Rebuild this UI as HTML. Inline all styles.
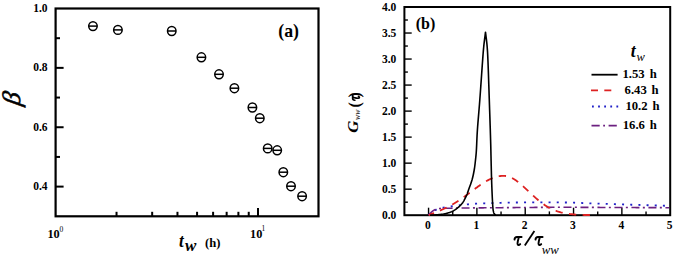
<!DOCTYPE html>
<html><head><meta charset="utf-8"><style>
html,body{margin:0;padding:0;background:#fff;}
svg{display:block;}
</style></head><body>
<svg width="675" height="258" viewBox="0 0 675 258">
<rect width="675" height="258" fill="#fff"/>
<rect x="55.6" y="8.5" width="262.90" height="207.80" fill="none" stroke="#000" stroke-width="2.2"/>
<line x1="55.6" y1="38.19" x2="60.0" y2="38.19" stroke="#000" stroke-width="2"/>
<line x1="55.6" y1="67.87" x2="63.6" y2="67.87" stroke="#000" stroke-width="2"/>
<line x1="55.6" y1="97.56" x2="60.0" y2="97.56" stroke="#000" stroke-width="2"/>
<line x1="55.6" y1="127.24" x2="63.6" y2="127.24" stroke="#000" stroke-width="2"/>
<line x1="55.6" y1="156.93" x2="60.0" y2="156.93" stroke="#000" stroke-width="2"/>
<line x1="55.6" y1="186.61" x2="63.6" y2="186.61" stroke="#000" stroke-width="2"/>
<line x1="116.53" y1="216.3" x2="116.53" y2="211.8" stroke="#000" stroke-width="2"/>
<line x1="152.17" y1="216.3" x2="152.17" y2="211.8" stroke="#000" stroke-width="2"/>
<line x1="177.46" y1="216.3" x2="177.46" y2="211.8" stroke="#000" stroke-width="2"/>
<line x1="197.07" y1="216.3" x2="197.07" y2="211.8" stroke="#000" stroke-width="2"/>
<line x1="213.10" y1="216.3" x2="213.10" y2="211.8" stroke="#000" stroke-width="2"/>
<line x1="226.65" y1="216.3" x2="226.65" y2="211.8" stroke="#000" stroke-width="2"/>
<line x1="238.39" y1="216.3" x2="238.39" y2="211.8" stroke="#000" stroke-width="2"/>
<line x1="248.74" y1="216.3" x2="248.74" y2="211.8" stroke="#000" stroke-width="2"/>
<line x1="258.00" y1="216.3" x2="258.00" y2="208.0" stroke="#000" stroke-width="2"/>
<ellipse cx="92.95" cy="26.1" rx="4.25" ry="4.45" fill="none" stroke="#000" stroke-width="1.5"/>
<line x1="88.70" y1="26.1" x2="97.20" y2="26.1" stroke="#000" stroke-width="1.5"/>
<ellipse cx="117.9" cy="29.9" rx="4.25" ry="4.45" fill="none" stroke="#000" stroke-width="1.5"/>
<line x1="113.65" y1="29.9" x2="122.15" y2="29.9" stroke="#000" stroke-width="1.5"/>
<ellipse cx="171.75" cy="31.0" rx="4.25" ry="4.45" fill="none" stroke="#000" stroke-width="1.5"/>
<line x1="167.50" y1="31.0" x2="176.00" y2="31.0" stroke="#000" stroke-width="1.5"/>
<ellipse cx="201.4" cy="57.3" rx="4.25" ry="4.45" fill="none" stroke="#000" stroke-width="1.5"/>
<line x1="197.15" y1="57.3" x2="205.65" y2="57.3" stroke="#000" stroke-width="1.5"/>
<ellipse cx="219" cy="74.3" rx="4.25" ry="4.45" fill="none" stroke="#000" stroke-width="1.5"/>
<line x1="214.75" y1="74.3" x2="223.25" y2="74.3" stroke="#000" stroke-width="1.5"/>
<ellipse cx="234.4" cy="88.2" rx="4.25" ry="4.45" fill="none" stroke="#000" stroke-width="1.5"/>
<line x1="230.15" y1="88.2" x2="238.65" y2="88.2" stroke="#000" stroke-width="1.5"/>
<ellipse cx="252.4" cy="107.5" rx="4.25" ry="4.45" fill="none" stroke="#000" stroke-width="1.5"/>
<line x1="248.15" y1="107.5" x2="256.65" y2="107.5" stroke="#000" stroke-width="1.5"/>
<ellipse cx="259.8" cy="118.2" rx="4.25" ry="4.45" fill="none" stroke="#000" stroke-width="1.5"/>
<line x1="255.55" y1="118.2" x2="264.05" y2="118.2" stroke="#000" stroke-width="1.5"/>
<ellipse cx="267.7" cy="148.4" rx="4.25" ry="4.45" fill="none" stroke="#000" stroke-width="1.5"/>
<line x1="263.45" y1="148.4" x2="271.95" y2="148.4" stroke="#000" stroke-width="1.5"/>
<ellipse cx="277.2" cy="150.3" rx="4.25" ry="4.45" fill="none" stroke="#000" stroke-width="1.5"/>
<line x1="272.95" y1="150.3" x2="281.45" y2="150.3" stroke="#000" stroke-width="1.5"/>
<ellipse cx="283.3" cy="172.2" rx="4.25" ry="4.45" fill="none" stroke="#000" stroke-width="1.5"/>
<line x1="279.05" y1="172.2" x2="287.55" y2="172.2" stroke="#000" stroke-width="1.5"/>
<ellipse cx="291" cy="186.2" rx="4.25" ry="4.45" fill="none" stroke="#000" stroke-width="1.5"/>
<line x1="286.75" y1="186.2" x2="295.25" y2="186.2" stroke="#000" stroke-width="1.5"/>
<ellipse cx="302.1" cy="196.2" rx="4.25" ry="4.45" fill="none" stroke="#000" stroke-width="1.5"/>
<line x1="297.85" y1="196.2" x2="306.35" y2="196.2" stroke="#000" stroke-width="1.5"/>
<text x="47.5" y="11.90" text-anchor="end" font-family="Liberation Serif" font-weight="bold" font-size="11.5">1.0</text>
<text x="47.5" y="71.27" text-anchor="end" font-family="Liberation Serif" font-weight="bold" font-size="11.5">0.8</text>
<text x="47.5" y="130.64" text-anchor="end" font-family="Liberation Serif" font-weight="bold" font-size="11.5">0.6</text>
<text x="47.5" y="190.01" text-anchor="end" font-family="Liberation Serif" font-weight="bold" font-size="11.5">0.4</text>
<text x="47.4" y="237.9" font-family="Liberation Serif" font-weight="bold" font-size="12.3">10</text><text x="59.6" y="231.6" font-family="Liberation Serif" font-size="7.5">0</text>
<text x="250.0" y="237.9" font-family="Liberation Serif" font-weight="bold" font-size="12.3">10</text><text x="261.6" y="231.2" font-family="Liberation Serif" font-size="7.5">1</text>
<text x="278.3" y="36.6" font-family="Liberation Serif" font-weight="bold" font-size="17.8">(a)</text>
<text transform="translate(20.2,106.2) rotate(-90) skewX(-10) scale(1.1,1.07)" font-family="Liberation Serif" font-style="italic" font-size="23.5" stroke="#000" stroke-width="0.55">&#946;</text>
<text transform="translate(178.9,246.5) scale(0.9,1)" font-family="Liberation Serif" font-weight="bold" font-style="italic" font-size="18.8">t</text>
<text x="185.1" y="250.9" font-family="Liberation Serif" font-weight="bold" font-style="italic" font-size="17">w</text>
<text x="205.1" y="247.2" font-family="Liberation Serif" font-weight="bold" font-size="12.6">(h)</text>
<rect x="404.4" y="7.0" width="265.80" height="208.20" fill="none" stroke="#000" stroke-width="2"/>
<line x1="404.4" y1="202.19" x2="407.9" y2="202.19" stroke="#000" stroke-width="1.4"/>
<line x1="404.4" y1="189.17" x2="411.7" y2="189.17" stroke="#000" stroke-width="1.4"/>
<line x1="404.4" y1="176.16" x2="407.9" y2="176.16" stroke="#000" stroke-width="1.4"/>
<line x1="404.4" y1="163.15" x2="411.7" y2="163.15" stroke="#000" stroke-width="1.4"/>
<line x1="404.4" y1="150.14" x2="407.9" y2="150.14" stroke="#000" stroke-width="1.4"/>
<line x1="404.4" y1="137.12" x2="411.7" y2="137.12" stroke="#000" stroke-width="1.4"/>
<line x1="404.4" y1="124.11" x2="407.9" y2="124.11" stroke="#000" stroke-width="1.4"/>
<line x1="404.4" y1="111.10" x2="411.7" y2="111.10" stroke="#000" stroke-width="1.4"/>
<line x1="404.4" y1="98.09" x2="407.9" y2="98.09" stroke="#000" stroke-width="1.4"/>
<line x1="404.4" y1="85.07" x2="411.7" y2="85.07" stroke="#000" stroke-width="1.4"/>
<line x1="404.4" y1="72.06" x2="407.9" y2="72.06" stroke="#000" stroke-width="1.4"/>
<line x1="404.4" y1="59.05" x2="411.7" y2="59.05" stroke="#000" stroke-width="1.4"/>
<line x1="404.4" y1="46.04" x2="407.9" y2="46.04" stroke="#000" stroke-width="1.4"/>
<line x1="404.4" y1="33.03" x2="411.7" y2="33.03" stroke="#000" stroke-width="1.4"/>
<line x1="404.4" y1="20.01" x2="407.9" y2="20.01" stroke="#000" stroke-width="1.4"/>
<line x1="428.56" y1="215.2" x2="428.56" y2="207.7" stroke="#000" stroke-width="1.4"/>
<line x1="452.73" y1="215.2" x2="452.73" y2="211.39999999999998" stroke="#000" stroke-width="1.4"/>
<line x1="476.89" y1="215.2" x2="476.89" y2="207.7" stroke="#000" stroke-width="1.4"/>
<line x1="501.05" y1="215.2" x2="501.05" y2="211.39999999999998" stroke="#000" stroke-width="1.4"/>
<line x1="525.22" y1="215.2" x2="525.22" y2="207.7" stroke="#000" stroke-width="1.4"/>
<line x1="549.38" y1="215.2" x2="549.38" y2="211.39999999999998" stroke="#000" stroke-width="1.4"/>
<line x1="573.55" y1="215.2" x2="573.55" y2="207.7" stroke="#000" stroke-width="1.4"/>
<line x1="597.71" y1="215.2" x2="597.71" y2="211.39999999999998" stroke="#000" stroke-width="1.4"/>
<line x1="621.87" y1="215.2" x2="621.87" y2="207.7" stroke="#000" stroke-width="1.4"/>
<line x1="646.04" y1="215.2" x2="646.04" y2="211.39999999999998" stroke="#000" stroke-width="1.4"/>
<text x="396.3" y="218.80" text-anchor="end" font-family="Liberation Serif" font-weight="bold" font-size="11.5">0.0</text>
<text x="396.3" y="192.77" text-anchor="end" font-family="Liberation Serif" font-weight="bold" font-size="11.5">0.5</text>
<text x="396.3" y="166.75" text-anchor="end" font-family="Liberation Serif" font-weight="bold" font-size="11.5">1.0</text>
<text x="396.3" y="140.72" text-anchor="end" font-family="Liberation Serif" font-weight="bold" font-size="11.5">1.5</text>
<text x="396.3" y="114.70" text-anchor="end" font-family="Liberation Serif" font-weight="bold" font-size="11.5">2.0</text>
<text x="396.3" y="88.67" text-anchor="end" font-family="Liberation Serif" font-weight="bold" font-size="11.5">2.5</text>
<text x="396.3" y="62.65" text-anchor="end" font-family="Liberation Serif" font-weight="bold" font-size="11.5">3.0</text>
<text x="396.3" y="36.63" text-anchor="end" font-family="Liberation Serif" font-weight="bold" font-size="11.5">3.5</text>
<text x="396.3" y="10.60" text-anchor="end" font-family="Liberation Serif" font-weight="bold" font-size="11.5">4.0</text>
<text x="427.96" y="229.3" text-anchor="middle" font-family="Liberation Serif" font-weight="bold" font-size="11.5">0</text>
<text x="476.29" y="229.3" text-anchor="middle" font-family="Liberation Serif" font-weight="bold" font-size="11.5">1</text>
<text x="524.62" y="229.3" text-anchor="middle" font-family="Liberation Serif" font-weight="bold" font-size="11.5">2</text>
<text x="572.95" y="229.3" text-anchor="middle" font-family="Liberation Serif" font-weight="bold" font-size="11.5">3</text>
<text x="621.27" y="229.3" text-anchor="middle" font-family="Liberation Serif" font-weight="bold" font-size="11.5">4</text>
<text x="669.60" y="229.3" text-anchor="middle" font-family="Liberation Serif" font-weight="bold" font-size="11.5">5</text>
<text x="415.7" y="28.8" font-family="Liberation Serif" font-weight="bold" font-size="16">(b)</text>
<path d="M428.50,215.20 L428.62,215.08 L428.73,214.95 L428.85,214.82 L428.96,214.69 L429.08,214.56 L429.19,214.43 L429.31,214.29 L429.42,214.16 L429.53,214.03 L429.65,213.89 L429.76,213.76 L429.88,213.62 L429.99,213.49 L430.10,213.36 L430.22,213.22 L430.33,213.09 L430.45,212.96 L430.56,212.84 L430.68,212.71 L430.80,212.59 L430.91,212.46 L431.03,212.34 L431.15,212.23 L431.27,212.11 L431.39,212.00 L431.51,211.89 L431.63,211.79 L431.75,211.69 L431.88,211.59 L432.00,211.50 L432.13,211.41 L432.25,211.33 L432.38,211.25 L432.51,211.17 L432.64,211.10 L432.77,211.03 L432.90,210.96 L433.03,210.89 L433.16,210.83 L433.30,210.77 L433.43,210.71 L433.56,210.66 L433.70,210.60 L433.83,210.55 L433.97,210.50 L434.10,210.45 L434.24,210.40 L434.38,210.36 L434.51,210.31 L434.65,210.26 L434.78,210.22 L434.92,210.17 L435.06,210.13 L435.19,210.08 L435.33,210.04 L435.46,209.99 L435.60,209.94 L435.73,209.90 L435.87,209.85 L436.00,209.80 L436.13,209.75 L436.26,209.70 L436.39,209.65 L436.52,209.61 L436.64,209.56 L436.77,209.52 L436.89,209.47 L437.01,209.43 L437.14,209.39 L437.26,209.34 L437.38,209.30 L437.50,209.26 L437.63,209.22 L437.75,209.18 L437.88,209.14 L438.00,209.10 L438.13,209.06 L438.26,209.02 L438.39,208.97 L438.52,208.93 L438.65,208.89 L438.79,208.85 L438.93,208.81 L439.07,208.77 L439.22,208.72 L439.37,208.68 L439.52,208.64 L439.68,208.59 L439.84,208.55 L440.00,208.50 L440.17,208.45 L440.34,208.40 L440.52,208.35 L440.70,208.30 L440.88,208.25 L441.07,208.20 L441.26,208.15 L441.46,208.10 L441.65,208.04 L441.85,207.99 L442.05,207.93 L442.26,207.88 L442.46,207.83 L442.67,207.77 L442.88,207.72 L443.08,207.67 L443.29,207.61 L443.50,207.56 L443.71,207.51 L443.93,207.46 L444.14,207.40 L444.35,207.36 L444.56,207.31 L444.77,207.26 L444.98,207.21 L445.18,207.17 L445.39,207.12 L445.60,207.08 L445.80,207.04 L446.00,207.00 L446.20,206.96 L446.40,206.93 L446.59,206.89 L446.78,206.86 L446.98,206.83 L447.17,206.80 L447.36,206.77 L447.55,206.74 L447.74,206.71 L447.93,206.69 L448.11,206.66 L448.30,206.64 L448.49,206.62 L448.68,206.59 L448.88,206.57 L449.07,206.55 L449.26,206.52 L449.46,206.50 L449.65,206.48 L449.85,206.46 L450.05,206.43 L450.26,206.41 L450.46,206.39 L450.67,206.36 L450.88,206.34 L451.10,206.31 L451.32,206.28 L451.54,206.26 L451.77,206.23 L452.00,206.20 L452.24,206.17 L452.48,206.14 L452.72,206.11 L452.97,206.08 L453.22,206.04 L453.47,206.01 L453.73,205.98 L453.99,205.95 L454.25,205.91 L454.52,205.88 L454.79,205.84 L455.06,205.81 L455.33,205.78 L455.60,205.74 L455.88,205.71 L456.15,205.67 L456.43,205.64 L456.70,205.60 L456.98,205.57 L457.26,205.53 L457.54,205.50 L457.81,205.46 L458.09,205.43 L458.37,205.40 L458.64,205.36 L458.92,205.33 L459.19,205.30 L459.46,205.26 L459.73,205.23 L460.00,205.20 L460.27,205.17 L460.53,205.14 L460.80,205.10 L461.07,205.07 L461.33,205.04 L461.60,205.01 L461.87,204.98 L462.13,204.95 L462.40,204.91 L462.67,204.88 L462.93,204.85 L463.20,204.82 L463.47,204.79 L463.73,204.76 L464.00,204.72 L464.27,204.69 L464.53,204.66 L464.80,204.63 L465.07,204.60 L465.33,204.57 L465.60,204.54 L465.87,204.52 L466.13,204.49 L466.40,204.46 L466.67,204.43 L466.93,204.40 L467.20,204.38 L467.47,204.35 L467.73,204.33 L468.00,204.30 L468.26,204.28 L468.52,204.25 L468.77,204.23 L469.02,204.20 L469.26,204.18 L469.50,204.16 L469.74,204.14 L469.98,204.12 L470.21,204.10 L470.44,204.08 L470.68,204.06 L470.91,204.04 L471.15,204.02 L471.38,204.00 L471.62,203.98 L471.87,203.96 L472.12,203.94 L472.37,203.93 L472.63,203.91 L472.89,203.89 L473.16,203.87 L473.44,203.85 L473.72,203.83 L474.02,203.82 L474.32,203.80 L474.63,203.78 L474.96,203.76 L475.29,203.74 L475.64,203.72 L476.00,203.70 L476.37,203.68 L476.75,203.66 L477.13,203.64 L477.52,203.62 L477.92,203.60 L478.32,203.58 L478.73,203.56 L479.15,203.54 L479.57,203.52 L480.00,203.50 L480.44,203.48 L480.88,203.46 L481.33,203.43 L481.79,203.41 L482.25,203.39 L482.72,203.37 L483.20,203.35 L483.68,203.33 L484.17,203.31 L484.67,203.29 L485.17,203.27 L485.68,203.25 L486.20,203.23 L486.72,203.21 L487.25,203.19 L487.79,203.17 L488.33,203.16 L488.88,203.14 L489.44,203.12 L490.00,203.10 L490.57,203.08 L491.14,203.06 L491.71,203.05 L492.29,203.03 L492.87,203.01 L493.46,202.99 L494.05,202.97 L494.64,202.95 L495.24,202.94 L495.85,202.92 L496.47,202.90 L497.09,202.88 L497.72,202.87 L498.35,202.85 L499.00,202.83 L499.65,202.81 L500.32,202.80 L500.99,202.78 L501.68,202.76 L502.37,202.75 L503.08,202.73 L503.79,202.72 L504.52,202.70 L505.26,202.69 L506.02,202.67 L506.79,202.66 L507.57,202.64 L508.36,202.63 L509.17,202.61 L510.00,202.60 L510.85,202.59 L511.72,202.57 L512.61,202.56 L513.53,202.55 L514.47,202.53 L515.42,202.52 L516.40,202.51 L517.39,202.49 L518.39,202.48 L519.41,202.47 L520.43,202.45 L521.47,202.44 L522.52,202.43 L523.57,202.42 L524.62,202.41 L525.68,202.40 L526.75,202.38 L527.81,202.37 L528.87,202.36 L529.93,202.36 L530.98,202.35 L532.03,202.34 L533.07,202.33 L534.10,202.32 L535.12,202.32 L536.12,202.31 L537.12,202.31 L538.10,202.31 L539.06,202.30 L540.00,202.30 L540.93,202.30 L541.85,202.30 L542.77,202.30 L543.68,202.30 L544.59,202.30 L545.49,202.30 L546.38,202.30 L547.27,202.30 L548.16,202.30 L549.04,202.31 L549.91,202.31 L550.78,202.32 L551.65,202.32 L552.51,202.33 L553.38,202.33 L554.23,202.34 L555.09,202.34 L555.94,202.35 L556.78,202.36 L557.63,202.37 L558.47,202.38 L559.31,202.39 L560.15,202.40 L560.99,202.41 L561.83,202.43 L562.66,202.44 L563.50,202.45 L564.33,202.47 L565.17,202.48 L566.00,202.50 L566.83,202.52 L567.66,202.54 L568.48,202.56 L569.29,202.58 L570.10,202.60 L570.91,202.62 L571.72,202.64 L572.52,202.67 L573.32,202.69 L574.11,202.72 L574.90,202.74 L575.70,202.77 L576.49,202.80 L577.27,202.83 L578.06,202.86 L578.85,202.89 L579.64,202.91 L580.42,202.94 L581.21,202.97 L582.00,203.00 L582.79,203.03 L583.58,203.06 L584.37,203.09 L585.17,203.12 L585.97,203.15 L586.77,203.18 L587.57,203.21 L588.38,203.24 L589.19,203.27 L590.00,203.30 L590.82,203.33 L591.64,203.36 L592.46,203.39 L593.28,203.42 L594.11,203.45 L594.94,203.48 L595.76,203.51 L596.59,203.54 L597.43,203.57 L598.26,203.60 L599.09,203.63 L599.93,203.66 L600.76,203.69 L601.60,203.72 L602.44,203.75 L603.28,203.78 L604.11,203.81 L604.95,203.84 L605.79,203.87 L606.63,203.90 L607.47,203.93 L608.31,203.96 L609.15,203.99 L609.98,204.02 L610.82,204.05 L611.66,204.08 L612.50,204.11 L613.33,204.14 L614.17,204.17 L615.00,204.20 L615.83,204.23 L616.66,204.26 L617.48,204.28 L618.30,204.31 L619.12,204.34 L619.94,204.36 L620.75,204.39 L621.56,204.42 L622.37,204.44 L623.19,204.47 L624.00,204.50 L624.81,204.52 L625.62,204.55 L626.43,204.57 L627.25,204.60 L628.07,204.63 L628.89,204.65 L629.71,204.68 L630.54,204.70 L631.37,204.73 L632.21,204.76 L633.05,204.78 L633.89,204.81 L634.74,204.84 L635.60,204.86 L636.47,204.89 L637.34,204.92 L638.22,204.94 L639.10,204.97 L640.00,205.00 L640.90,205.03 L641.82,205.06 L642.74,205.09 L643.67,205.11 L644.60,205.14 L645.54,205.17 L646.49,205.20 L647.45,205.23 L648.41,205.26 L649.37,205.29 L650.34,205.32 L651.31,205.35 L652.29,205.38 L653.27,205.41 L654.25,205.44 L655.23,205.47 L656.22,205.50 L657.21,205.54 L658.20,205.57 L659.19,205.60 L660.17,205.63 L661.16,205.66 L662.15,205.69 L663.14,205.72 L664.12,205.75 L665.10,205.78 L666.08,205.81 L667.06,205.84 L668.03,205.87 L669.00,205.90" fill="none" stroke="#2020c8" stroke-width="1.8" stroke-dasharray="2 6.17" stroke-dashoffset="8.07"/>
<path d="M428.50,215.20 L428.58,215.11 L428.67,215.02 L428.75,214.93 L428.83,214.84 L428.91,214.75 L428.99,214.65 L429.07,214.56 L429.15,214.47 L429.23,214.38 L429.31,214.29 L429.40,214.19 L429.48,214.10 L429.56,214.01 L429.64,213.92 L429.72,213.82 L429.80,213.73 L429.88,213.64 L429.96,213.55 L430.05,213.46 L430.13,213.37 L430.21,213.28 L430.30,213.19 L430.38,213.10 L430.47,213.01 L430.55,212.93 L430.64,212.84 L430.73,212.75 L430.82,212.67 L430.91,212.58 L431.00,212.50 L431.09,212.42 L431.19,212.33 L431.28,212.25 L431.37,212.16 L431.47,212.08 L431.57,212.00 L431.67,211.91 L431.76,211.83 L431.86,211.75 L431.96,211.66 L432.06,211.58 L432.16,211.50 L432.27,211.42 L432.37,211.34 L432.47,211.26 L432.57,211.18 L432.67,211.10 L432.78,211.02 L432.88,210.95 L432.98,210.87 L433.08,210.80 L433.19,210.72 L433.29,210.65 L433.39,210.58 L433.49,210.52 L433.60,210.45 L433.70,210.38 L433.80,210.32 L433.90,210.26 L434.00,210.20 L434.10,210.14 L434.20,210.09 L434.30,210.03 L434.39,209.98 L434.49,209.93 L434.58,209.88 L434.68,209.83 L434.77,209.79 L434.87,209.74 L434.96,209.70 L435.06,209.65 L435.15,209.61 L435.25,209.57 L435.34,209.53 L435.44,209.49 L435.53,209.46 L435.63,209.42 L435.73,209.38 L435.83,209.35 L435.93,209.31 L436.03,209.28 L436.13,209.25 L436.23,209.22 L436.34,209.18 L436.44,209.15 L436.55,209.12 L436.66,209.09 L436.77,209.06 L436.88,209.03 L437.00,209.00 L437.12,208.97 L437.23,208.94 L437.34,208.91 L437.44,208.89 L437.55,208.86 L437.66,208.84 L437.76,208.81 L437.86,208.79 L437.97,208.76 L438.07,208.74 L438.18,208.72 L438.29,208.70 L438.40,208.68 L438.51,208.66 L438.62,208.64 L438.74,208.62 L438.87,208.60 L438.99,208.58 L439.12,208.57 L439.26,208.55 L439.40,208.53 L439.55,208.52 L439.70,208.50 L439.86,208.48 L440.03,208.47 L440.21,208.46 L440.39,208.44 L440.59,208.43 L440.79,208.41 L441.00,208.40 L441.22,208.39 L441.44,208.38 L441.67,208.36 L441.90,208.35 L442.14,208.34 L442.38,208.33 L442.63,208.33 L442.89,208.32 L443.14,208.31 L443.41,208.30 L443.68,208.30 L443.95,208.29 L444.23,208.29 L444.52,208.28 L444.81,208.27 L445.11,208.27 L445.42,208.27 L445.73,208.26 L446.05,208.26 L446.37,208.25 L446.70,208.25 L447.04,208.24 L447.38,208.24 L447.74,208.23 L448.09,208.23 L448.46,208.22 L448.83,208.22 L449.22,208.21 L449.60,208.21 L450.00,208.20 L450.40,208.19 L450.78,208.19 L451.17,208.18 L451.55,208.17 L451.92,208.17 L452.30,208.16 L452.67,208.16 L453.05,208.15 L453.43,208.14 L453.81,208.14 L454.21,208.13 L454.61,208.12 L455.02,208.12 L455.44,208.11 L455.88,208.11 L456.32,208.10 L456.79,208.09 L457.27,208.09 L457.77,208.08 L458.30,208.07 L458.84,208.07 L459.41,208.06 L460.00,208.05 L460.62,208.05 L461.27,208.04 L461.95,208.03 L462.66,208.02 L463.41,208.02 L464.19,208.01 L465.00,208.00 L465.84,207.99 L466.70,207.98 L467.58,207.97 L468.47,207.97 L469.39,207.96 L470.32,207.95 L471.27,207.94 L472.25,207.93 L473.24,207.92 L474.26,207.91 L475.30,207.90 L476.36,207.89 L477.45,207.88 L478.55,207.87 L479.69,207.86 L480.85,207.85 L482.03,207.84 L483.24,207.83 L484.48,207.82 L485.74,207.81 L487.03,207.80 L488.35,207.79 L489.70,207.78 L491.08,207.77 L492.49,207.76 L493.93,207.75 L495.40,207.73 L496.90,207.72 L498.43,207.71 L500.00,207.70 L501.61,207.69 L503.28,207.67 L505.01,207.66 L506.79,207.65 L508.61,207.63 L510.48,207.62 L512.39,207.60 L514.34,207.58 L516.32,207.57 L518.33,207.55 L520.37,207.54 L522.44,207.52 L524.53,207.50 L526.63,207.49 L528.75,207.47 L530.88,207.45 L533.02,207.44 L535.16,207.42 L537.30,207.41 L539.44,207.39 L541.58,207.38 L543.71,207.37 L545.82,207.35 L547.92,207.34 L550.00,207.33 L552.06,207.32 L554.09,207.32 L556.09,207.31 L558.06,207.30 L560.00,207.30 L561.91,207.30 L563.81,207.30 L565.71,207.30 L567.59,207.30 L569.47,207.30 L571.34,207.30 L573.20,207.31 L575.05,207.31 L576.90,207.32 L578.74,207.32 L580.58,207.33 L582.41,207.34 L584.23,207.34 L586.06,207.35 L587.88,207.36 L589.69,207.37 L591.50,207.38 L593.31,207.39 L595.12,207.40 L596.93,207.41 L598.73,207.42 L600.54,207.43 L602.34,207.44 L604.14,207.45 L605.95,207.46 L607.76,207.47 L609.56,207.48 L611.37,207.49 L613.18,207.49 L615.00,207.50 L616.82,207.51 L618.63,207.51 L620.44,207.52 L622.25,207.53 L624.06,207.53 L625.86,207.54 L627.67,207.55 L629.47,207.55 L631.27,207.56 L633.07,207.57 L634.87,207.57 L636.67,207.58 L638.47,207.59 L640.27,207.59 L642.06,207.60 L643.86,207.61 L645.65,207.61 L647.45,207.62 L649.24,207.63 L651.04,207.63 L652.83,207.64 L654.63,207.65 L656.42,207.65 L658.22,207.66 L660.01,207.67 L661.81,207.67 L663.60,207.68 L665.40,207.69 L667.20,207.69 L669.00,207.70" fill="none" stroke="#6c2080" stroke-width="1.6" stroke-dasharray="8 3.4 2 3.59" stroke-dashoffset="15.64"/>
<path d="M428.56,215.20 L429.37,214.85 L430.19,214.51 L431.00,214.18 L431.81,213.85 L432.62,213.52 L433.43,213.19 L434.24,212.87 L435.05,212.55 L435.86,212.22 L436.67,211.89 L437.49,211.56 L438.30,211.23 L439.11,210.90 L439.92,210.56 L440.73,210.21 L441.54,209.86 L442.35,209.51 L443.16,209.14 L443.97,208.78 L444.79,208.40 L445.60,208.02 L446.41,207.62 L447.22,207.22 L448.03,206.82 L448.84,206.40 L449.65,205.97 L450.46,205.54 L451.28,205.09 L452.09,204.64 L452.90,204.17 L453.71,203.70 L454.52,203.22 L455.33,202.73 L456.14,202.23 L456.95,201.72 L457.76,201.20 L458.58,200.67 L459.39,200.13 L460.20,199.59 L461.01,199.04 L461.82,198.48 L462.63,197.91 L463.44,197.34 L464.25,196.76 L465.06,196.18 L465.88,195.59 L466.69,194.99 L467.50,194.39 L468.31,193.79 L469.12,193.19 L469.93,192.58 L470.74,191.97 L471.55,191.36 L472.36,190.76 L473.18,190.15 L473.99,189.54 L474.80,188.94 L475.61,188.34 L476.42,187.74 L477.23,187.15 L478.04,186.57 L478.85,185.99 L479.66,185.42 L480.48,184.86 L481.29,184.31 L482.10,183.77 L482.91,183.24 L483.72,182.72 L484.53,182.21 L485.34,181.72 L486.15,181.24 L486.96,180.78 L487.78,180.34 L488.59,179.91 L489.40,179.50 L490.21,179.11 L491.02,178.74 L491.83,178.39 L492.64,178.05 L493.45,177.74 L494.26,177.46 L495.08,177.19 L495.89,176.95 L496.70,176.73 L497.51,176.53 L498.32,176.36 L499.13,176.21 L499.94,176.09 L500.75,175.99 L501.56,175.92 L502.38,175.87 L503.19,175.85 L504.00,175.86 L504.81,175.91 L505.62,175.99 L506.43,176.12 L507.24,176.29 L508.05,176.50 L508.86,176.75 L509.68,177.04 L510.49,177.36 L511.30,177.72 L512.11,178.12 L512.92,178.55 L513.73,179.01 L514.54,179.50 L515.35,180.03 L516.16,180.58 L516.98,181.16 L517.79,181.77 L518.60,182.39 L519.41,183.04 L520.22,183.71 L521.03,184.40 L521.84,185.11 L522.65,185.83 L523.46,186.56 L524.28,187.30 L525.09,188.06 L525.90,188.82 L526.71,189.58 L527.52,190.35 L528.33,191.12 L529.14,191.89 L529.95,192.66 L530.76,193.43 L531.58,194.20 L532.39,194.95 L533.20,195.71 L534.01,196.45 L534.82,197.18 L535.63,197.90 L536.44,198.62 L537.25,199.31 L538.06,200.00 L538.88,200.67 L539.69,201.33 L540.50,201.97 L541.31,202.59 L542.12,203.20 L542.93,203.79 L543.74,204.36 L544.55,204.91 L545.37,205.45 L546.18,205.96 L546.99,206.46 L547.80,206.95 L548.61,207.41 L549.42,207.85 L550.23,208.28 L551.04,208.69 L551.85,209.08 L552.67,209.45 L553.48,209.81 L554.29,210.15 L555.10,210.47 L555.91,210.78 L556.72,211.07 L557.53,211.34 L558.34,211.61 L559.15,211.85 L559.97,212.09 L560.78,212.31 L561.59,212.51 L562.40,212.71 L563.21,212.89 L564.02,213.06 L564.83,213.23 L565.64,213.38 L566.45,213.52 L567.27,213.65 L568.08,213.77 L568.89,213.89 L569.70,214.00 L570.51,214.09 L571.32,214.19 L572.13,214.27 L572.94,214.35 L573.75,214.42 L574.57,214.49 L575.38,214.55 L576.19,214.61 L577.00,214.66 L577.81,214.71 L578.62,214.76 L579.43,214.80 L580.24,214.84 L581.05,214.87 L581.87,214.90 L582.68,214.93 L583.49,214.96 L584.30,214.98 L585.11,214.99 L585.92,214.99 L586.73,214.99 L587.54,214.99 L588.35,214.99 L589.17,214.99 L589.98,214.99" fill="none" stroke="#dd2222" stroke-width="1.8" stroke-dasharray="7.3 6.4" stroke-dashoffset="1.43"/>
<path d="M430.00,215.20 L431.00,215.14 L431.99,215.09 L432.98,215.05 L433.97,215.00 L434.96,214.95 L435.96,214.88 L436.98,214.80 L438.00,214.70 L439.04,214.59 L440.10,214.48 L441.17,214.36 L442.24,214.22 L443.32,214.07 L444.39,213.88 L445.45,213.66 L446.50,213.40 L447.54,213.11 L448.57,212.79 L449.60,212.45 L450.62,212.08 L451.63,211.66 L452.63,211.20 L453.62,210.68 L454.60,210.10 L455.58,209.45 L456.57,208.74 L457.55,207.97 L458.53,207.15 L459.47,206.30 L460.37,205.41 L461.22,204.51 L462.00,203.60 L462.72,202.65 L463.39,201.63 L464.01,200.57 L464.59,199.49 L465.12,198.42 L465.62,197.38 L466.08,196.40 L466.50,195.50 L466.86,194.72 L467.14,194.05 L467.37,193.44 L467.56,192.87 L467.75,192.28 L467.95,191.63 L468.20,190.89 L468.50,190.00 L468.87,188.97 L469.30,187.82 L469.76,186.58 L470.24,185.28 L470.72,183.95 L471.18,182.61 L471.61,181.28 L472.00,180.00 L472.34,178.75 L472.66,177.50 L472.96,176.25 L473.24,175.00 L473.50,173.75 L473.74,172.50 L473.98,171.25 L474.20,170.00 L474.41,168.75 L474.60,167.50 L474.77,166.25 L474.93,165.00 L475.08,163.75 L475.22,162.50 L475.36,161.25 L475.50,160.00 L475.63,158.82 L475.75,157.73 L475.86,156.69 L475.97,155.62 L476.07,154.48 L476.18,153.20 L476.29,151.73 L476.40,150.00 L476.51,148.05 L476.61,145.94 L476.71,143.67 L476.81,141.25 L476.92,138.67 L477.05,135.94 L477.21,133.05 L477.40,130.00 L477.63,126.78 L477.89,123.39 L478.18,119.83 L478.49,116.12 L478.82,112.28 L479.15,108.30 L479.48,104.20 L479.80,100.00 L480.13,95.48 L480.49,90.55 L480.85,85.37 L481.22,80.12 L481.58,74.99 L481.92,70.14 L482.23,65.75 L482.50,62.00 L482.73,58.93 L482.91,56.40 L483.07,54.29 L483.21,52.49 L483.34,50.87 L483.48,49.33 L483.63,47.74 L483.80,46.00 L483.99,44.17 L484.20,42.40 L484.41,40.66 L484.63,38.96 L484.84,37.28 L485.07,35.60 L485.28,33.91 L485.50,32.20 L485.70,33.91 L485.92,35.60 L486.13,37.28 L486.34,38.96 L486.55,40.66 L486.75,42.40 L486.93,44.17 L487.10,46.00 L487.24,47.74 L487.36,49.33 L487.47,50.87 L487.57,52.49 L487.66,54.29 L487.76,56.40 L487.87,58.93 L488.00,62.00 L488.14,65.68 L488.30,69.91 L488.46,74.55 L488.62,79.50 L488.79,84.64 L488.97,89.84 L489.13,95.00 L489.30,100.00 L489.46,104.90 L489.63,109.86 L489.80,114.85 L489.97,119.88 L490.13,124.91 L490.30,129.95 L490.45,134.99 L490.60,140.00 L490.74,145.10 L490.87,150.35 L490.99,155.66 L491.11,160.94 L491.23,166.10 L491.35,171.05 L491.47,175.72 L491.60,180.00 L491.73,183.96 L491.87,187.71 L492.01,191.24 L492.15,194.53 L492.29,197.57 L492.43,200.33 L492.57,202.81 L492.70,205.00 L492.82,206.81 L492.94,208.22 L493.05,209.31 L493.16,210.14 L493.27,210.81 L493.40,211.37 L493.54,211.91 L493.70,212.50 L493.89,213.07 L494.09,213.51 L494.32,213.86 L494.55,214.15 L494.79,214.40 L495.03,214.64 L495.27,214.90 L495.50,215.20" fill="none" stroke="#000" stroke-width="1.6" stroke-linejoin="round"/>
<g transform="translate(513.6,236.0) scale(1.0)" fill="none" stroke="#000" stroke-linecap="round" stroke-width="1.9"><path d="M0.9,3.6 C1.0,1.8 2.0,1.0 3.4,1.0 L8.0,1.0"/><path d="M5.3,1.2 C4.6,3.6 3.9,5.8 3.9,7.6 C3.9,9.4 5.4,9.5 6.6,8.1"/></g>
<line x1="524.8" y1="245.5" x2="534.4" y2="231" stroke="#000" stroke-width="1.8"/>
<g transform="translate(534.6,236.0) scale(1.0)" fill="none" stroke="#000" stroke-linecap="round" stroke-width="1.9"><path d="M0.9,3.6 C1.0,1.8 2.0,1.0 3.4,1.0 L8.0,1.0"/><path d="M5.3,1.2 C4.6,3.6 3.9,5.8 3.9,7.6 C3.9,9.4 5.4,9.5 6.6,8.1"/></g>
<text x="541.8" y="254.4" font-family="Liberation Serif" font-style="italic" font-size="12.8">ww</text>
<g transform="translate(357.5,131.2) rotate(-90)"><text transform="translate(-1.5,0) scale(1.2,1)" font-family="Liberation Serif" font-style="italic" font-weight="bold" font-size="14">G</text><text x="11.3" y="2.9" font-family="Liberation Serif" font-style="italic" font-size="7.8">ww</text><text x="23.8" y="2.2" font-family="Liberation Serif" font-weight="bold" font-size="16">(</text><text x="33.6" y="2.2" font-family="Liberation Serif" font-weight="bold" font-size="16">)</text><g transform="translate(30.3,-5.6) scale(0.68,0.82)" fill="none" stroke="#000" stroke-linecap="round" stroke-width="2.2"><path d="M0.9,3.6 C1.0,1.8 2.0,1.0 3.4,1.0 L8.0,1.0"/><path d="M5.3,1.2 C4.6,3.6 3.9,5.8 3.9,7.6 C3.9,9.4 5.4,9.5 6.6,8.1"/></g></g>
<text transform="translate(630.8,56.7) scale(0.9,1)" font-family="Liberation Serif" font-weight="bold" font-style="italic" font-size="19.5">t</text>
<text x="636.4" y="61" font-family="Liberation Serif" font-style="italic" font-size="12.5">w</text>
<line x1="591.5" y1="74.7" x2="617.6" y2="74.7" stroke="#000" stroke-width="1.8"/>
<text x="622.5" y="77.9" font-family="Liberation Serif" font-weight="bold" font-size="12.7">1.53</text><text x="649.8" y="77.9" font-family="Liberation Serif" font-weight="bold" font-size="12.7">h</text>
<line x1="591" y1="90.3" x2="617.6" y2="90.3" stroke="#dd2222" stroke-width="1.8" stroke-dasharray="7 6.3"/>
<text x="624.6" y="94" font-family="Liberation Serif" font-weight="bold" font-size="12.7">6.43</text><text x="651.5" y="94" font-family="Liberation Serif" font-weight="bold" font-size="12.7">h</text>
<line x1="592" y1="106.6" x2="620" y2="106.6" stroke="#2020c8" stroke-width="2" stroke-dasharray="1.8 4.3"/>
<text x="625.4" y="110.2" font-family="Liberation Serif" font-weight="bold" font-size="12.7">10.2</text><text x="652.4" y="110.2" font-family="Liberation Serif" font-weight="bold" font-size="12.7">h</text>
<line x1="591.5" y1="125.7" x2="617" y2="125.7" stroke="#6c2080" stroke-width="1.8" stroke-dasharray="8.2 3.5 1.8 3.6"/>
<text x="622.7" y="129.2" font-family="Liberation Serif" font-weight="bold" font-size="12.7">16.6</text><text x="649.8" y="129.2" font-family="Liberation Serif" font-weight="bold" font-size="12.7">h</text>
</svg>
</body></html>
